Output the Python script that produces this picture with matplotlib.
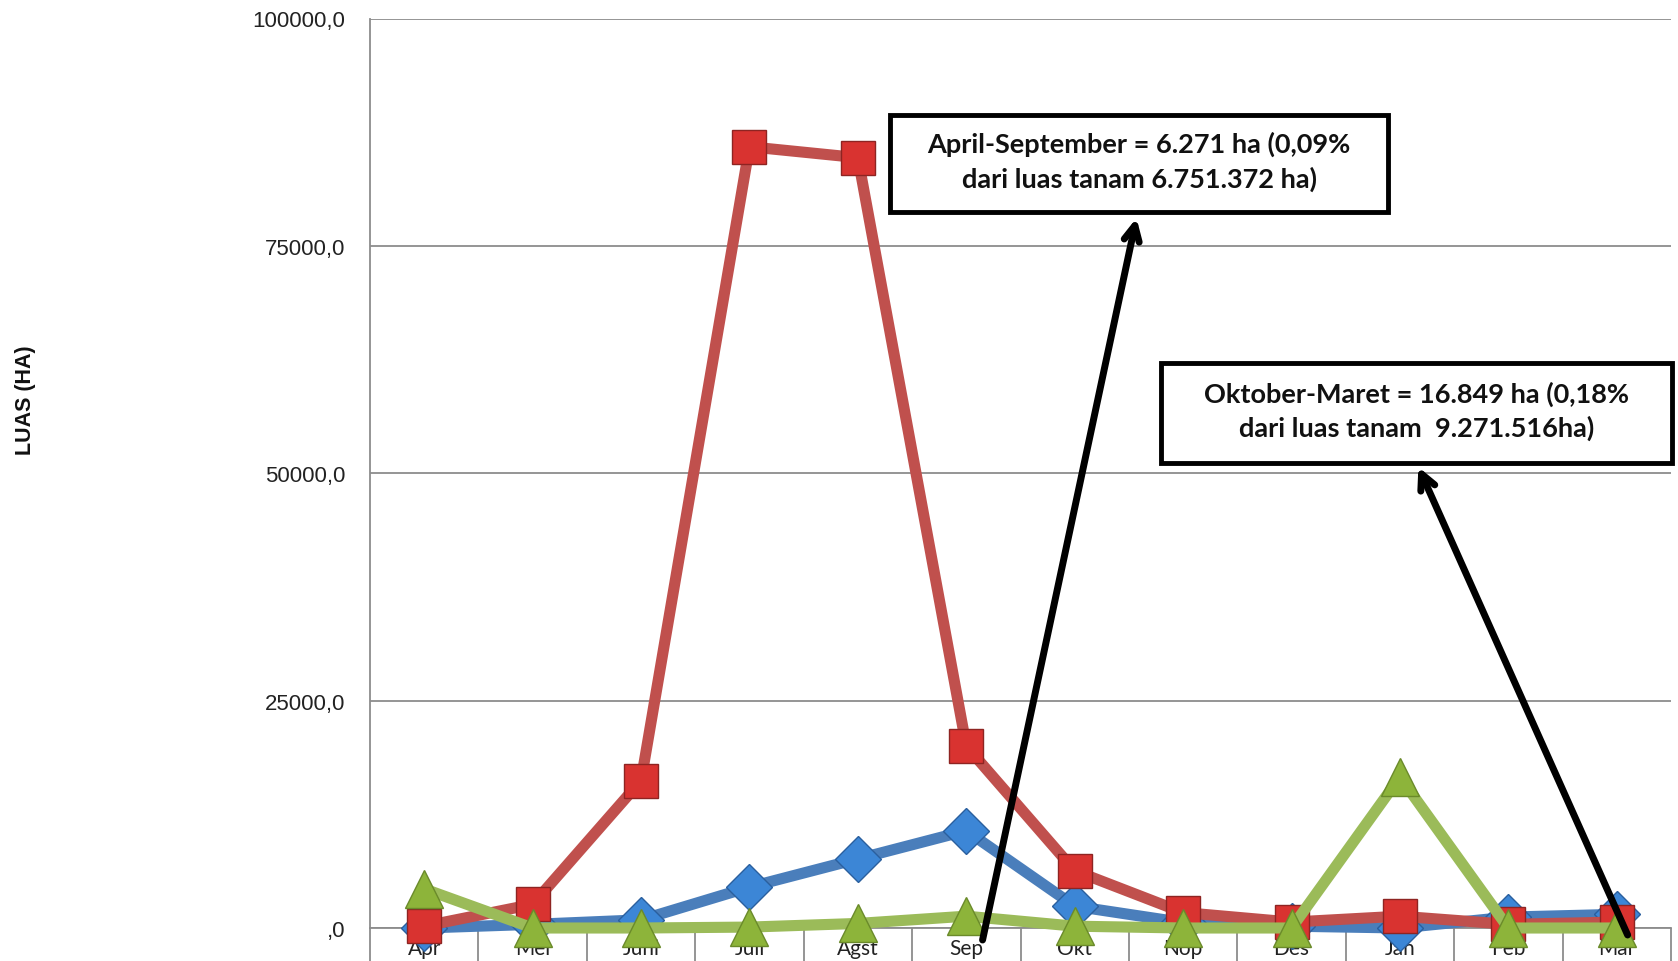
import matplotlib
matplotlib.use("Agg")
import matplotlib.pyplot as plt
from matplotlib.patches import Rectangle
from matplotlib.ticker import FixedLocator, NullFormatter, FixedFormatter
import numpy as np

months = ["Apr", "Mei", "Juni", "Juli", "Agst", "Sep", "Okt", "Nop", "Des", "Jan", "Feb", "Mar"]
blue_vals = [0, 400, 900, 4500, 7600, 10700, 2400, 600, 200, 0, 1200, 1500]
red_vals = [200, 2600, 16200, 85900, 84700, 20000, 6300, 1700, 650, 1300, 400, 650]
green_vals = [4300, 0, 0, 100, 500, 1300, 200, 0, 0, 16600, 0, 0]
y_ticks = [0, 25000, 50000, 75000, 100000]
y_tick_labels = [",0", "25000,0", "50000,0", "75000,0", "100000,0"]
note1 = "April-September = 6.271 ha (0,09%\ndari luas tanam 6.751.372 ha)"
note2 = "Oktober-Maret = 16.849 ha (0,18%\ndari luas tanam  9.271.516ha)"

W, H = 1678, 962
fig = plt.figure(figsize=(W / 100, H / 100), dpi=100)
ax = fig.add_axes([370 / W, 33 / H, 1301 / W, 909.5 / H])

x = np.arange(len(months))
ax.set_xlim(-0.5, len(months) - 0.5)
ax.set_ylim(0, 100000)

ax.plot(x, blue_vals, color="#4A7EBB", lw=8, marker="D", markersize=23,
        markerfacecolor="#3C86D6", markeredgecolor="#2A5F9E", markeredgewidth=1,
        clip_on=False, zorder=3)
ax.plot(x, red_vals, color="#C0504D", lw=8, marker="s", markersize=25,
        markerfacecolor="#D93330", markeredgecolor="#8E2422", markeredgewidth=1,
        clip_on=False, zorder=4)
ax.plot(x, green_vals, color="#9BBB59", lw=8, marker="^", markersize=27,
        markerfacecolor="#8DB43A", markeredgecolor="#6A8A2A", markeredgewidth=1,
        clip_on=False, zorder=5)

# y axis
ax.set_yticks(y_ticks)
ax.set_yticklabels(y_tick_labels, family="Liberation Sans", fontsize=16, color="#222222")
ax.tick_params(axis="y", length=0, pad=18)
ax.yaxis.grid(True, color="#8C8C8C", lw=1.3)
ax.set_axisbelow(True)

# x axis: boundaries as major ticks, labels at minor ticks
ax.xaxis.set_major_locator(FixedLocator(np.arange(-0.5, len(months), 1.0)))
ax.xaxis.set_major_formatter(NullFormatter())
ax.xaxis.set_minor_locator(FixedLocator(x))
ax.xaxis.set_minor_formatter(FixedFormatter(months))
ax.tick_params(axis="x", which="major", length=36, width=1.3, color="#8C8C8C", direction="out")
ax.tick_params(axis="x", which="minor", length=0, pad=7, labelsize=15, labelcolor="#222222")
for lab in ax.xaxis.get_minorticklabels():
    lab.set_family("Lato")

for s in ["top", "right"]:
    ax.spines[s].set_visible(False)
for s in ["left", "bottom"]:
    ax.spines[s].set_color("#8C8C8C")
    ax.spines[s].set_linewidth(1.3)

fig.text(25 / W, 1 - 400 / H, "LUAS (HA)", rotation=90, ha="center", va="center",
         family="Liberation Sans", fontweight="bold", fontsize=15.5, color="#111111")

# annotation boxes
def box(x0, y0, x1, y1, txt):
    r = Rectangle((x0, y0), x1 - x0, y1 - y0, transform=ax.transAxes, facecolor="white",
                  edgecolor="black", lw=3.5, clip_on=False, zorder=6)
    ax.add_patch(r)
    ax.text((x0 + x1) / 2, (y0 + y1) / 2 + 0.003, txt, transform=ax.transAxes, ha="center",
            va="center", family="Lato", fontweight="bold", fontsize=19.5, color="#111111",
            linespacing=1.45, zorder=7)

box(0.3997, 0.7873, 0.7825, 0.8939, note1)
box(0.608, 0.5113, 1.0008, 0.6212, note2)

arrow_kw = dict(arrowstyle="->,head_length=1.1,head_width=0.55", color="black", lw=5,
                shrinkA=0, shrinkB=0)
ax.annotate("", xy=(6.57, 78060), xytext=(5.15, -1320), arrowprops=arrow_kw,
            annotation_clip=False, zorder=8)
ax.annotate("", xy=(9.17, 50690), xytext=(11.1, -770), arrowprops=arrow_kw,
            annotation_clip=False, zorder=8)

fig.savefig("out.png", dpi=100)
